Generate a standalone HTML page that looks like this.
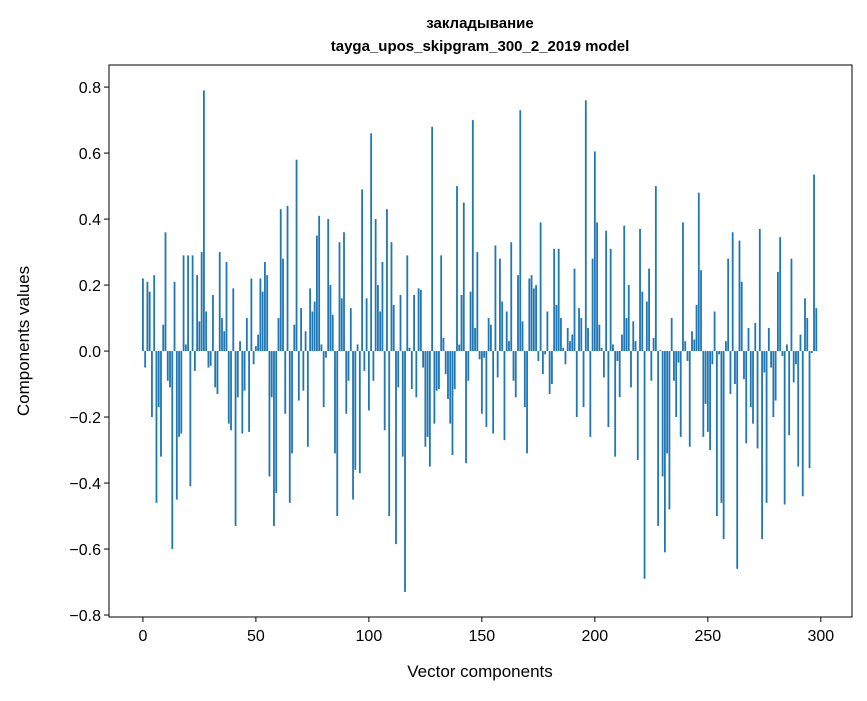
<!DOCTYPE html>
<html><head><meta charset="utf-8"><style>
body{margin:0;background:#fff;}
svg text{font-family:"Liberation Sans","DejaVu Sans",sans-serif;fill:#000;}
</style></head><body>
<svg id="chart" width="867" height="696" xmlns="http://www.w3.org/2000/svg">
<rect width="867" height="696" fill="#fff"/>
<text x="480" y="28" text-anchor="middle" font-size="15" font-weight="bold">закладывание</text>
<text x="480" y="51" text-anchor="middle" font-size="15" font-weight="bold">tayga_upos_skipgram_300_2_2019 model</text>
<g id="bars"></g>
<g id="axes"></g>
<rect x="109" y="65" width="743" height="552" fill="none" stroke="#000" stroke-width="1"/>
<text x="480" y="677" text-anchor="middle" font-size="17">Vector components</text>
<text transform="translate(29,341) rotate(-90)" text-anchor="middle" font-size="17">Components values</text>
</svg>
<script>
const values = [
0.22,-0.05,0.21,0.18,-0.20,0.23,-0.46,-0.17,-0.32,0.08,
0.36,-0.09,-0.11,-0.60,0.21,-0.45,-0.26,-0.25,0.29,0.02,
0.29,-0.41,0.29,-0.06,0.23,0.09,0.30,0.79,0.12,-0.05,
-0.045,0.17,-0.11,-0.13,0.30,0.10,0.06,0.27,-0.22,-0.24,
0.19,-0.53,-0.14,0.03,-0.25,-0.12,0.10,-0.245,0.22,-0.04,
0.015,0.05,0.22,0.18,0.27,0.23,-0.38,-0.14,-0.53,-0.43,
0.10,0.43,0.28,-0.19,0.44,-0.46,-0.31,0.08,0.58,-0.15,
0.13,-0.12,0.06,-0.29,0.19,0.12,0.15,0.35,0.41,0.02,
-0.17,-0.02,0.40,0.20,0.11,-0.31,-0.50,0.33,0.16,0.36,
-0.19,-0.09,0.13,-0.45,-0.36,0.02,-0.37,0.49,-0.06,0.16,
-0.18,0.66,-0.09,0.40,0.20,0.12,0.27,-0.24,0.43,-0.50,
0.33,0.14,-0.585,-0.11,0.17,-0.32,-0.73,0.29,0.01,-0.115,
0.17,-0.14,0.19,0.185,-0.05,-0.29,-0.26,-0.35,0.68,-0.22,
-0.12,-0.115,0.29,0.04,-0.07,-0.145,-0.22,-0.315,-0.115,0.50,
0.02,0.17,0.45,-0.34,-0.09,0.18,0.70,0.07,0.30,-0.025,
-0.19,-0.02,-0.23,0.10,0.08,-0.25,0.32,-0.08,0.28,0.15,
-0.27,0.12,0.03,0.33,-0.09,-0.14,0.23,0.73,0.09,-0.17,
-0.31,0.22,0.23,0.19,0.20,-0.03,0.39,-0.07,-0.01,0.12,
-0.13,-0.10,0.31,0.14,0.31,0.10,0.01,-0.04,0.07,0.03,
0.05,0.25,-0.20,0.13,0.10,-0.17,0.76,0.07,-0.26,0.28,
0.605,0.39,0.08,0.01,-0.08,0.365,-0.23,0.31,0.02,-0.32,
-0.03,-0.14,0.05,0.38,0.10,0.20,-0.11,0.09,0.03,-0.33,
0.37,0.18,-0.69,0.15,0.25,-0.09,0.04,0.50,-0.53,0.003,
-0.38,-0.61,-0.31,-0.48,0.10,-0.09,-0.20,-0.035,-0.26,0.39,
0.03,-0.03,-0.29,0.06,0.035,0.14,0.48,0.245,-0.26,-0.16,
-0.245,-0.30,-0.04,0.12,-0.50,-0.01,-0.46,-0.57,0.03,0.28,
-0.13,0.36,-0.10,-0.66,0.335,0.21,-0.085,-0.28,0.07,-0.17,
-0.22,0.085,-0.295,0.37,-0.57,-0.065,-0.46,0.07,-0.05,-0.20,
-0.15,0.24,0.345,-0.015,-0.465,0.02,-0.255,0.28,-0.095,-0.04,
-0.35,0.05,-0.44,0.16,0.10,-0.355,-0.006,0.535,0.13
];
const xTicks = [0,50,100,150,200,250,300];
const yTicks = [-0.8,-0.6,-0.4,-0.2,0.0,0.2,0.4,0.6,0.8];
const yTickLabels = ["\u22120.8","\u22120.6","\u22120.4","\u22120.2","0.0","0.2","0.4","0.6","0.8"];

const NS="http://www.w3.org/2000/svg";
const X0=109,X1=852,Y0=65,Y1=617, XMIN=-15, XMAX=313.8, YMIN=-0.806, YMAX=0.867;
const xs=v=>X0+(v-XMIN)/(XMAX-XMIN)*(X1-X0);
const ys=v=>Y1-(v-YMIN)/(YMAX-YMIN)*(Y1-Y0);
const bars=document.getElementById('bars');
const bw=xs(0.8)-xs(0);
values.forEach((v,i)=>{
  const r=document.createElementNS(NS,'rect');
  
  
  const y=Math.min(ys(v),ys(0)), h=Math.abs(ys(v)-ys(0));
  r.setAttribute('x',xs(i-0.4));r.setAttribute('y',y);
  r.setAttribute('width',bw);r.setAttribute('height',Math.max(h,0.3));
  r.setAttribute('fill','#1f77b4');
  bars.appendChild(r);
});
const axes=document.getElementById('axes');
xTicks.forEach(t=>{
  const l=document.createElementNS(NS,'line');
  
  
  l.setAttribute('x1',xs(t));l.setAttribute('x2',xs(t));l.setAttribute('y1',Y1);l.setAttribute('y2',Y1+5);
  l.setAttribute('stroke','#000');
  axes.appendChild(l);
  const tx=document.createElementNS(NS,'text');
  
  
  tx.setAttribute('x',xs(t));tx.setAttribute('y',Y1+24);tx.setAttribute('text-anchor','middle');tx.setAttribute('font-size','16');
  tx.textContent=t;
  axes.appendChild(tx);
});
yTicks.forEach((t,i)=>{
  const l=document.createElementNS(NS,'line');
  
  
  l.setAttribute('x1',X0-5);l.setAttribute('x2',X0);l.setAttribute('y1',ys(t));l.setAttribute('y2',ys(t));
  l.setAttribute('stroke','#000');
  axes.appendChild(l);
  const tx=document.createElementNS(NS,'text');
  
  
  tx.setAttribute('x',X0-8);tx.setAttribute('y',ys(t)+6);tx.setAttribute('text-anchor','end');tx.setAttribute('font-size','16');
  tx.textContent=yTickLabels[i];
  axes.appendChild(tx);
});
</script>
</body></html>
